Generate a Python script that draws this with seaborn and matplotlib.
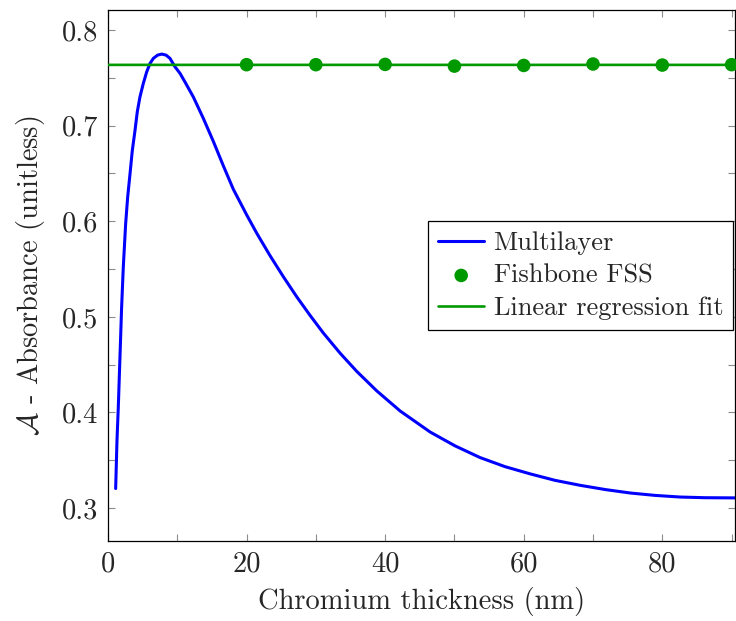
import numpy as np
import pandas as pd
import matplotlib
matplotlib.use("Agg")
import matplotlib.pyplot as plt
import seaborn as sns
from matplotlib.ticker import MultipleLocator

# ---- data ----
multilayer_x = [1.11, 1.30, 1.49, 1.73, 1.97, 2.21, 2.55, 2.84, 3.18, 3.51, 3.90,
                4.23, 4.62, 5.10, 5.59, 6.07, 6.55, 7.17, 7.75, 8.38, 8.95, 9.67,
                10.4, 11.1, 12.32, 13.77, 15.21, 16.65, 18.09, 20.03, 21.47, 23.39,
                25.31, 27.24, 29.17, 31.09, 33.5, 35.9, 38.8, 42.17, 46.5, 50.1,
                53.7, 57.3, 60.9, 64.5, 68.2, 71.8, 75.4, 79.0, 82.6, 86.2, 90.7]
multilayer_y = [0.3204, 0.3706, 0.4054, 0.4577, 0.5100, 0.5519, 0.5972, 0.6251,
                0.6495, 0.6739, 0.6949, 0.7145, 0.7302, 0.7442, 0.7563, 0.7651,
                0.7704, 0.7738, 0.7749, 0.7738, 0.7704, 0.7616, 0.7547, 0.7459,
                0.7300, 0.7075, 0.6835, 0.6580, 0.6335, 0.6065, 0.5875, 0.5640,
                0.5420, 0.5210, 0.5015, 0.4830, 0.4620, 0.4430, 0.4225, 0.4015,
                0.3795, 0.3650, 0.3528, 0.3433, 0.3358, 0.3290, 0.3237, 0.3193,
                0.3157, 0.3132, 0.3115, 0.3108, 0.3106]

fss_x = [20, 30, 40, 50, 60, 70, 80, 90]
fss_y = [0.7638, 0.7638, 0.7641, 0.7623, 0.7630, 0.7645, 0.7634, 0.7638]

fit_x = [0.0, 90.7]

x_ticks = [0, 20, 40, 60, 80]
y_ticks = [0.3, 0.4, 0.5, 0.6, 0.7, 0.8]

# linear regression of the Fishbone FSS points
slope, intercept = np.polyfit(fss_x, fss_y, 1)
fit_y = [slope * v + intercept for v in fit_x]

df_ml = pd.DataFrame({"x": multilayer_x, "y": multilayer_y})
df_fss = pd.DataFrame({"x": fss_x, "y": fss_y})
df_fit = pd.DataFrame({"x": fit_x, "y": fit_y})

sns.set_style("ticks")
plt.rcParams["font.family"] = ["cmr10"]
plt.rcParams["mathtext.fontset"] = "cm"
plt.rcParams["axes.formatter.use_mathtext"] = True
FS = 20.5
plt.rcParams["font.size"] = FS

BLUE = "#0000ff"
GREEN = "#009900"

fig = plt.figure(figsize=(7.36, 6.21), dpi=100)
ax = fig.add_axes([0.1467, 0.1288, 0.852, 0.8551])

sns.lineplot(data=df_ml, x="x", y="y", ax=ax, color=BLUE, lw=2.2,
             label="Multilayer", sort=False)
sns.scatterplot(data=df_fss, x="x", y="y", ax=ax, color=GREEN, s=95,
                edgecolor="none", label="Fishbone FSS", zorder=4, clip_on=False)
sns.lineplot(data=df_fit, x="x", y="y", ax=ax, color=GREEN, lw=1.9,
             label="Linear regression fit", zorder=3)

ax.set_xlim(0, 90.5)
ax.set_ylim(0.2655, 0.821)
ax.set_xticks(x_ticks)
ax.set_yticks(y_ticks)
ax.set_xticklabels([str(t) for t in x_ticks])
ax.set_yticklabels([f"{t:.1f}" for t in y_ticks])
ax.xaxis.set_minor_locator(MultipleLocator(10))
ax.yaxis.set_minor_locator(MultipleLocator(0.05))
ax.tick_params(which="both", direction="in", top=True, right=True,
               color="0.55", width=0.8, labelsize=FS)
ax.tick_params(which="major", length=5)
ax.tick_params(which="minor", length=5)
ax.tick_params(axis="x", pad=7)
ax.tick_params(axis="y", pad=7)
for s in ax.spines.values():
    s.set_color("black")
    s.set_linewidth(0.9)

ax.set_xlabel("Chromium thickness (nm)", fontsize=FS, labelpad=7)
ax.set_ylabel(r"$\mathcal{A}$ - Absorbance (unitless)", fontsize=FS, labelpad=11)

leg = ax.legend(loc="center right", bbox_to_anchor=(0.997, 0.5), frameon=True,
                fancybox=False, edgecolor="black", framealpha=1, fontsize=19,
                handlelength=1.75, handletextpad=0.35, labelspacing=0.33,
                borderpad=0.38, borderaxespad=0.0)
leg.get_frame().set_linewidth(0.9)

fig.savefig("out.png", dpi=100)
